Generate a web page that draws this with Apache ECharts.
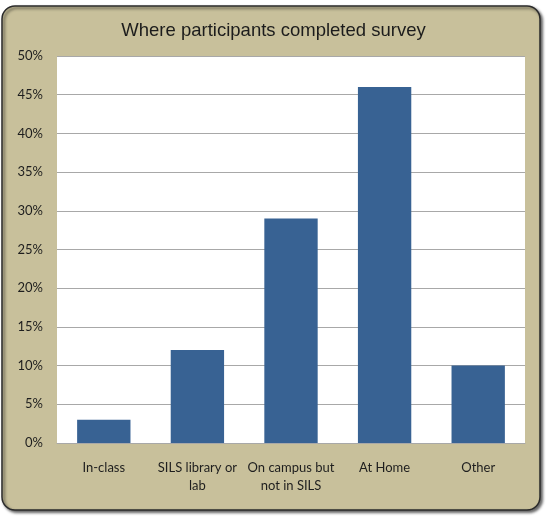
<!DOCTYPE html>
<html><head><meta charset="utf-8">
<script src="https://cdn.jsdelivr.net/npm/echarts@6/dist/echarts.min.js"></script>
<style>html,body{margin:0;padding:0;background:#fff;}#c{width:547px;height:517px;}</style>
</head><body><div id="c"></div>
<script>
const titleText = 'Where participants completed survey';
const categories = ['In-class', 'SILS library or\nlab', 'On campus but\nnot in SILS', 'At Home', 'Other'];
const values = [3, 12, 29, 46, 10];
const yTicks = [0, 5, 10, 15, 20, 25, 30, 35, 40, 45, 50];

const chart = echarts.init(document.getElementById('c'));
chart.setOption({
  animation: false,
  backgroundColor: '#ffffff',
  graphic: [{
    type: 'rect', z: -10, silent: true,
    shape: { x: 2, y: 6, width: 538, height: 504, r: 13 },
    style: { fill: '#C8C09B', stroke: '#2b2b2b', lineWidth: 1.5,
      shadowBlur: 3, shadowOffsetX: 2, shadowOffsetY: 2, shadowColor: 'rgba(0,0,0,0.6)' }
  }],
  title: {
    text: titleText, left: 'center', top: 16,
    textStyle: { fontFamily: 'Liberation Sans', fontSize: 18.5, fontWeight: 'normal', color: '#1c1c1c' }
  },
  grid: { left: 57, right: 22, top: 56, bottom: 74, show: true, backgroundColor: '#ffffff', borderWidth: 0 },
  xAxis: {
    type: 'category', data: categories,
    axisLine: { show: true, lineStyle: { color: '#A8A8A8', width: 1 } },
    axisTick: { show: false },
    axisLabel: { interval: 0, margin: 16, fontFamily: 'Lato', fontSize: 13, color: '#1e1e1e', lineHeight: 18 }
  },
  yAxis: {
    type: 'value', min: yTicks[0], max: yTicks[yTicks.length - 1], interval: 5,
    axisLine: { show: false }, axisTick: { show: false },
    splitLine: { lineStyle: { color: '#A8A8A8', width: 1 } },
    axisLabel: { formatter: v => v + '%', margin: 14, fontFamily: 'Lato', fontSize: 13, color: '#1e1e1e' }
  },
  series: [{
    type: 'bar', data: values, barWidth: '57%',
    itemStyle: { color: '#386293' }
  }]
});
</script></body></html>
